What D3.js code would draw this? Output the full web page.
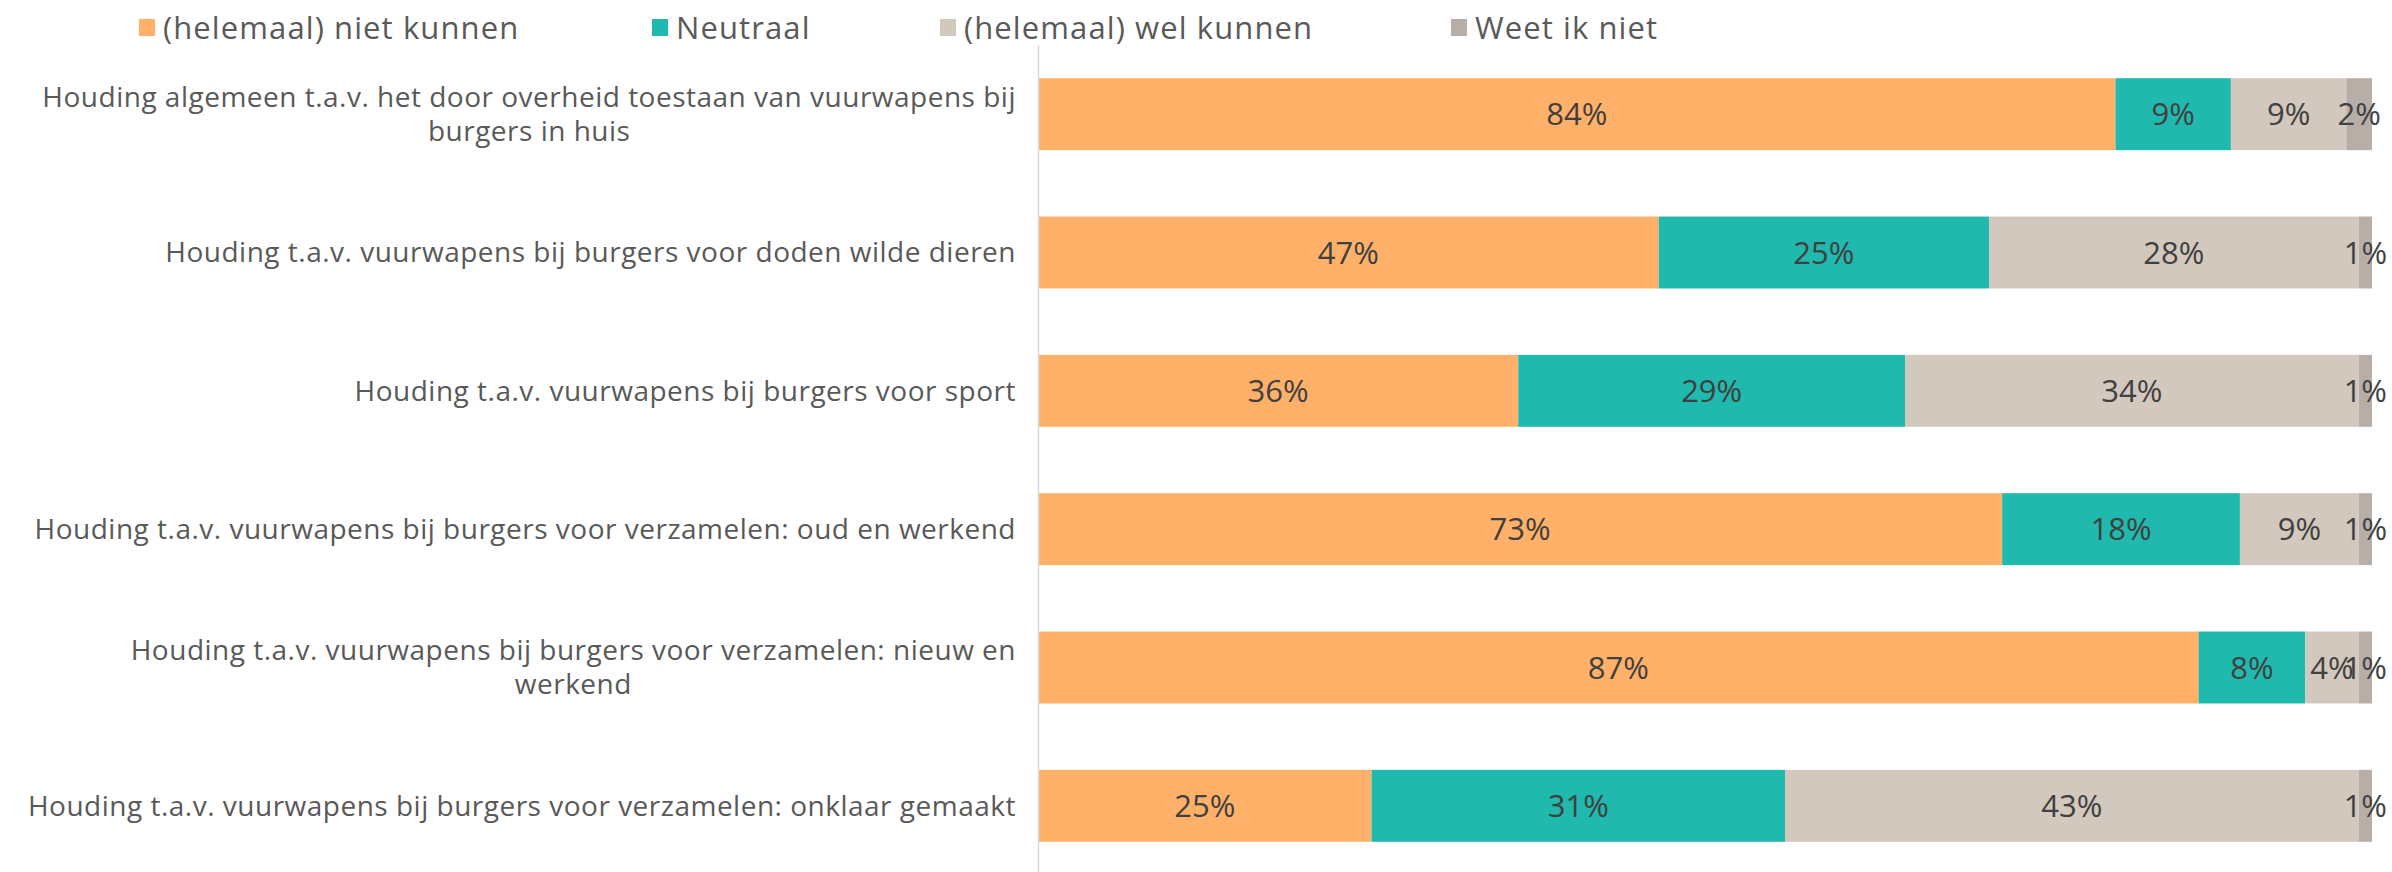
<!DOCTYPE html>
<html>
<head>
<meta charset="utf-8">
<script src="https://cdn.jsdelivr.net/npm/d3@7"></script>
<style>
  body { margin: 0; background: #fff; }
  svg { display: block; font-family: "Open Sans", sans-serif; }
</style>
</head>
<body>
<svg id="chart" width="2392" height="872"></svg>
<script>
// categories (line breaks as in the original)
var categories = [
  ["Houding algemeen t.a.v. het door overheid toestaan van vuurwapens bij", "burgers in huis"],
  ["Houding t.a.v. vuurwapens bij burgers voor doden wilde dieren"],
  ["Houding t.a.v. vuurwapens bij burgers voor sport"],
  ["Houding t.a.v. vuurwapens bij burgers voor verzamelen: oud en werkend"],
  ["Houding t.a.v. vuurwapens bij burgers voor verzamelen: nieuw en", "werkend"],
  ["Houding t.a.v. vuurwapens bij burgers voor verzamelen: onklaar gemaakt"]
];
var seriesNames = ["(helemaal) niet kunnen", "Neutraal", "(helemaal) wel kunnen", "Weet ik niet"];
var colors = ["#FFB169", "#20B9AD", "#D3C8BD", "#B8AEA8"];

// percentages per series
var nietKunnen = [84, 47, 36, 73, 87, 25];
var neutraal   = [9, 25, 29, 18, 8, 31];
var welKunnen  = [9, 28, 34, 9, 4, 43];
var weetNiet   = [2, 1, 1, 1, 1, 1];

var rows = categories.map(function (c, i) {
  return { idx: i, s0: nietKunnen[i], s1: neutraal[i], s2: welKunnen[i], s3: weetNiet[i] };
});

var svg = d3.select("#chart");

var x = d3.scaleLinear().domain([0, 1]).range([1038, 2372]);
var y = d3.scaleBand().domain(d3.range(categories.length))
  .range([45, 875]).paddingInner(0.48).paddingOuter(0.24);

// 100% stacked
var stack = d3.stack().keys(["s0", "s1", "s2", "s3"]).offset(d3.stackOffsetExpand);
var series = stack(rows);

var groups = svg.selectAll("g.series")
  .data(series)
  .enter().append("g")
  .attr("class", "series")
  .attr("fill", function (d, i) { return colors[i]; });

groups.selectAll("rect")
  .data(function (d) { return d; })
  .enter().append("rect")
  .attr("x", function (d) { return x(d[0]); })
  .attr("y", function (d) { return y(d.data.idx); })
  .attr("width", function (d) { return x(d[1]) - x(d[0]); })
  .attr("height", y.bandwidth());

// data labels
var labelG = svg.append("g");
series.forEach(function (s, si) {
  labelG.selectAll(null)
    .data(s)
    .enter().append("text")
    .attr("x", function (d) { return (x(d[0]) + x(d[1])) / 2; })
    .attr("y", function (d) { return y(d.data.idx) + y.bandwidth() / 2; })
    .attr("dy", "0.36em")
    .attr("text-anchor", "middle")
    .attr("fill", "#404040")
    .style("font-size", "31px")
    .text(function (d) { return d.data[s.key] + "%"; });
});

// vertical axis line
svg.append("line")
  .attr("x1", 1038.5).attr("x2", 1038.5)
  .attr("y1", 45).attr("y2", 872)
  .attr("stroke", "#D9D9D9").attr("stroke-width", 1.5);

// category labels, right aligned block, lines centred
var catG = svg.append("g");
categories.forEach(function (lines, i) {
  var cy = y(i) + y.bandwidth() / 2;
  var t = catG.append("text")
    .attr("fill", "#595959")
    .style("font-size", "28px")
    .style("letter-spacing", "0.5px")
    .attr("text-anchor", "end");
  var lh = 34;
  lines.forEach(function (ln, j) {
    t.append("tspan")
      .attr("x", 1016)
      .attr("y", cy + (j - (lines.length - 1) / 2) * lh)
      .attr("dy", "0.35em")
      .text(ln);
  });
  if (lines.length > 1) {
    var w = t.select("tspan").node().getComputedTextLength();
    t.attr("text-anchor", "middle").selectAll("tspan").attr("x", 1016 - w / 2);
  }
});

// legend
var legendX = [139, 652, 940, 1451];
var legend = svg.append("g");
seriesNames.forEach(function (n, i) {
  legend.append("rect")
    .attr("x", legendX[i]).attr("y", 19)
    .attr("width", 16).attr("height", 17)
    .attr("fill", colors[i]);
  legend.append("text")
    .attr("x", legendX[i] + 24).attr("y", 28)
    .attr("dy", "0.35em")
    .attr("fill", "#595959")
    .style("font-size", "31px")
    .style("letter-spacing", "1.1px")
    .text(n);
});
</script>
</body>
</html>
